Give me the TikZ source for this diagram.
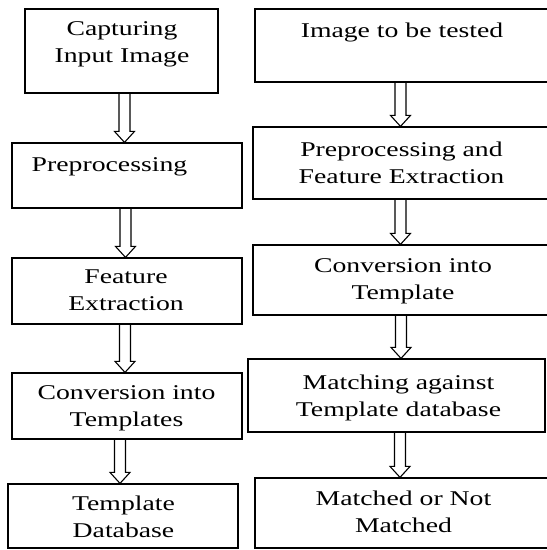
\documentclass[tikz,border=0pt]{standalone}
\usepackage{fontspec}
\setmainfont{Liberation Serif}[FakeStretch=1.32]
\usetikzlibrary{calc}
\newcommand\harrow[2]{\draw[arr] ($(#1)+(-5.5,0)$) -- ($(#2)+(-5.5,-11)$) -- ($(#2)+(-10,-11)$) -- (#2) -- ($(#2)+(10,-11)$) -- ($(#2)+(5.5,-11)$) -- ($(#1)+(5.5,0)$);}
\begin{document}
\begin{tikzpicture}[x=1pt,y=-1pt,
  box/.style={draw,line width=1.2pt,inner sep=0pt,rectangle},
  txt/.style={anchor=base,align=center,inner sep=0pt,font=\fontsize{21}{27}\selectfont},
  arr/.style={line width=1.1pt,line join=miter}]
\useasboundingbox (0,0) rectangle (547,550);
% left column boxes
\node[box,minimum width=193pt,minimum height=84pt] (b1) at (121.5,51) {};
\node[box,minimum width=230pt,minimum height=65pt] (b2) at (127,175.5) {};
\node[box,minimum width=230pt,minimum height=66pt] (b3) at (127,291) {};
\node[box,minimum width=230pt,minimum height=66pt] (b4) at (127,406) {};
\node[box,minimum width=230pt,minimum height=64pt] (b5) at (123,516) {};
% right column boxes
\node[box,minimum width=295pt,minimum height=73pt] (r1) at (402.5,45.5) {};
\node[box,minimum width=297pt,minimum height=72pt] (r2) at (401.5,163) {};
\node[box,minimum width=297pt,minimum height=70pt] (r3) at (401.5,280) {};
\node[box,minimum width=297pt,minimum height=73pt] (r4) at (396.5,395.5) {};
\node[box,minimum width=295pt,minimum height=70pt] (r5) at (402.5,513) {};
% texts (base = baseline of last line)
\node[txt] (t1) at (122,62) {Capturing\\Input Image};
\node[txt] (t2) at (109.5,171) {Preprocessing};
\node[txt] (t3) at (126,310) {Feature\\Extraction};
\node[txt] (t4) at (126.5,426) {Conversion into\\Templates};
\node[txt] (t5) at (123.5,537) {Template\\Database};
\node[txt] (u1) at (402,37) {Image to be tested};
\node[txt] (u2) at (401.5,183) {Preprocessing and\\Feature Extraction};
\node[txt] (u3) at (403,299) {Conversion into\\Template};
\node[txt] (u4) at (398.5,416) {Matching against\\Template database};
\node[txt] (u5) at (403.5,532) {Matched or Not\\Matched};
% arrow end points
\coordinate (a1s) at ($(b1.south)+(3,0)$);   \coordinate (a1e) at ($(b2.north)+(-2.5,0)$);
\coordinate (a2s) at ($(b2.south)+(-1.5,0)$); \coordinate (a2e) at ($(b3.north)+(-1.5,0)$);
\coordinate (a3s) at ($(b3.south)+(-2,0)$);   \coordinate (a3e) at ($(b4.north)+(-2,0)$);
\coordinate (a4s) at ($(b4.south)+(-7,0)$);   \coordinate (a4e) at ($(b5.north)+(-3,0)$);
\coordinate (c1s) at ($(r1.south)+(-2,0)$);   \coordinate (c1e) at ($(r2.north)+(-1,0)$);
\coordinate (c2s) at ($(r2.south)+(-1,0)$);   \coordinate (c2e) at ($(r3.north)+(-1,0)$);
\coordinate (c3s) at ($(r3.south)+(-0.5,0)$); \coordinate (c3e) at ($(r4.north)+(4.5,0)$);
\coordinate (c4s) at ($(r4.south)+(3.5,0)$);  \coordinate (c4e) at ($(r5.north)+(-2.5,0)$);
\harrow{a1s}{a1e}
\harrow{a2s}{a2e}
\harrow{a3s}{a3e}
\harrow{a4s}{a4e}
\harrow{c1s}{c1e}
\harrow{c2s}{c2e}
\harrow{c3s}{c3e}
\harrow{c4s}{c4e}
\end{tikzpicture}
\end{document}
